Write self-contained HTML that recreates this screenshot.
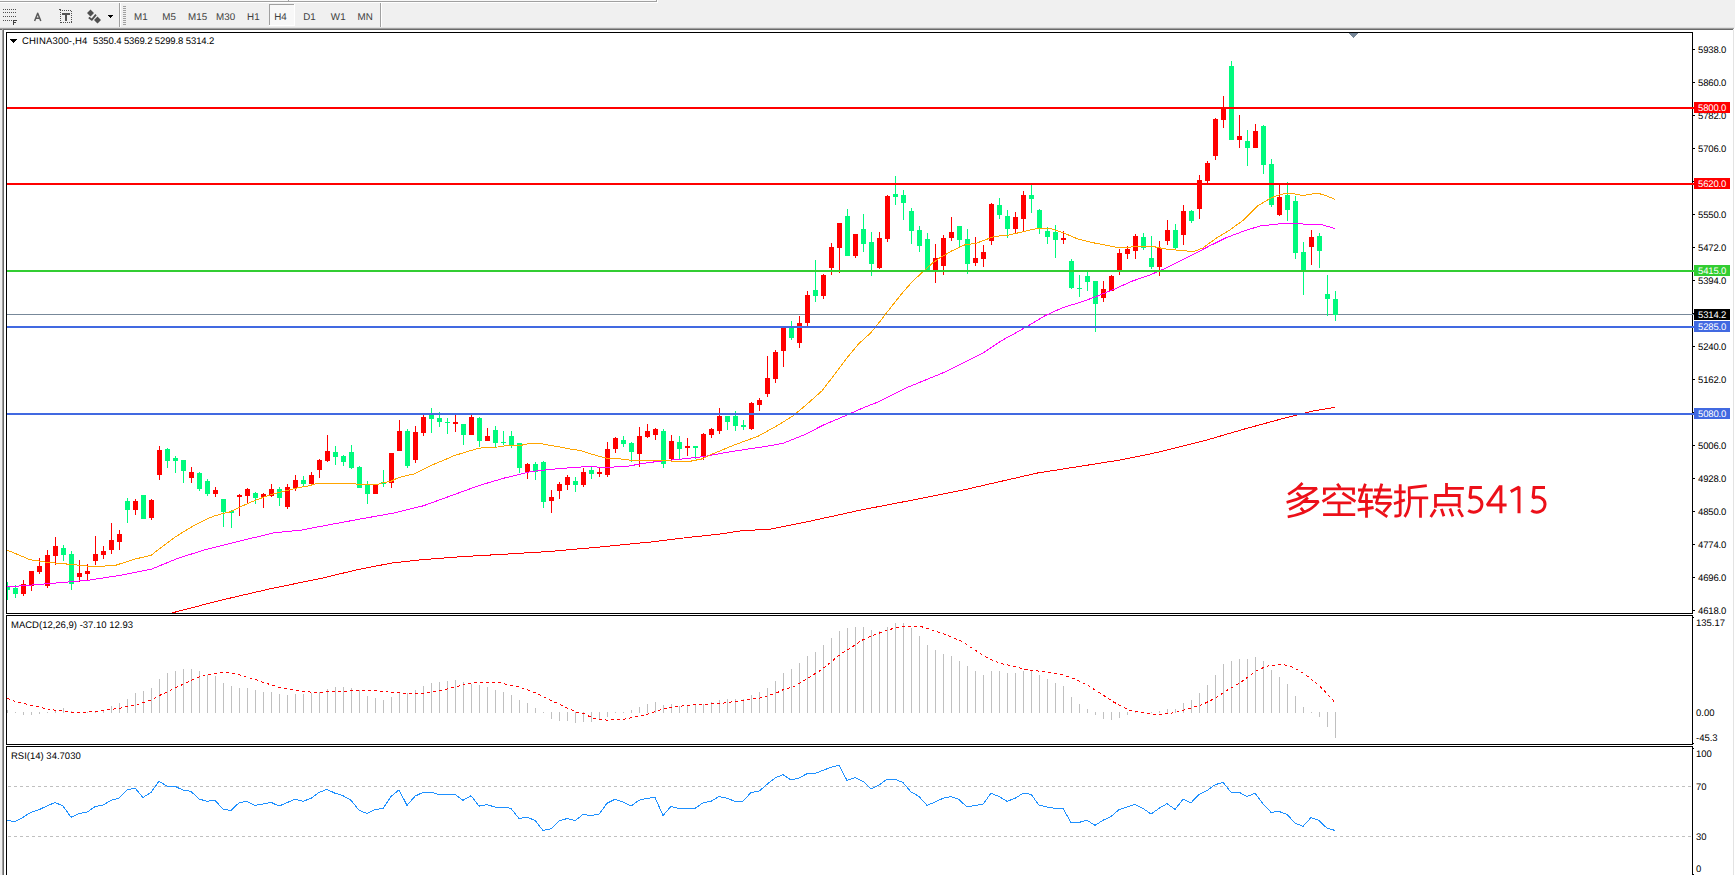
<!DOCTYPE html>
<html><head><meta charset="utf-8"><title>CHINA300 H4</title>
<style>
html,body{margin:0;padding:0;background:#fff;}
body{width:1735px;height:875px;overflow:hidden;position:relative;font-family:"Liberation Sans",sans-serif;}
svg{position:absolute;left:0;top:0;display:block;}
text{font-family:"Liberation Sans",sans-serif;font-size:9.5px;fill:#000;text-rendering:geometricPrecision;}
.tb{fill:#404040;font-size:9.8px;letter-spacing:0.1px;}
.w{fill:#fff;}
.ax{letter-spacing:-0.15px;}
</style></head><body>
<svg width="1735" height="875" viewBox="0 0 1735 875">
<g shape-rendering="crispEdges">
<rect x="0" y="0" width="1735" height="875" fill="#ffffff"/><rect x="0" y="0" width="1735" height="30" fill="#f0f0f0"/><rect x="0" y="0" width="656" height="1" fill="#f8f8f8"/><rect x="0" y="1" width="657" height="1" fill="#a0a0a0"/><rect x="288" y="0" width="1" height="2" fill="#a0a0a0"/><rect x="656" y="0" width="1" height="2" fill="#a0a0a0"/><rect x="0" y="2" width="658" height="1" fill="#ffffff"/><rect x="657" y="0" width="1" height="3" fill="#ffffff"/><rect x="0" y="27" width="1734" height="1" fill="#e0e0e0"/><rect x="0" y="28" width="1734" height="1" fill="#a0a0a0"/><rect x="0" y="29" width="1733" height="1" fill="#696969"/><rect x="0" y="30" width="2" height="845" fill="#f0f0f0"/><rect x="2" y="29" width="1" height="846" fill="#a0a0a0"/><rect x="3" y="30" width="1" height="845" fill="#696969"/><rect x="1733" y="30" width="1" height="845" fill="#e3e3e3"/><rect x="1734" y="28" width="1" height="847" fill="#ffffff"/>
<rect x="3" y="9" width="1" height="1" fill="#505050"/><rect x="5" y="9" width="1" height="1" fill="#505050"/><rect x="7" y="9" width="1" height="1" fill="#505050"/><rect x="9" y="9" width="1" height="1" fill="#505050"/><rect x="11" y="9" width="1" height="1" fill="#505050"/><rect x="13" y="9" width="1" height="1" fill="#505050"/><rect x="15" y="9" width="1" height="1" fill="#505050"/><rect x="3" y="12" width="1" height="1" fill="#505050"/><rect x="5" y="12" width="1" height="1" fill="#505050"/><rect x="7" y="12" width="1" height="1" fill="#505050"/><rect x="9" y="12" width="1" height="1" fill="#505050"/><rect x="11" y="12" width="1" height="1" fill="#505050"/><rect x="13" y="12" width="1" height="1" fill="#505050"/><rect x="15" y="12" width="1" height="1" fill="#505050"/><rect x="3" y="16" width="1" height="1" fill="#505050"/><rect x="5" y="16" width="1" height="1" fill="#505050"/><rect x="7" y="16" width="1" height="1" fill="#505050"/><rect x="9" y="16" width="1" height="1" fill="#505050"/><rect x="11" y="16" width="1" height="1" fill="#505050"/><rect x="13" y="16" width="1" height="1" fill="#505050"/><rect x="15" y="16" width="1" height="1" fill="#505050"/><rect x="3" y="20" width="1" height="1" fill="#505050"/><rect x="5" y="20" width="1" height="1" fill="#505050"/><rect x="7" y="20" width="1" height="1" fill="#505050"/><rect x="9" y="20" width="1" height="1" fill="#505050"/><rect x="11" y="20" width="1" height="1" fill="#505050"/><rect x="13" y="20" width="4" height="1" fill="#404040"/><rect x="13" y="20" width="1" height="5" fill="#404040"/><rect x="13" y="22" width="3" height="1" fill="#404040"/><rect x="60" y="10" width="1" height="1" fill="#505050"/><rect x="61" y="22" width="1" height="1" fill="#505050"/><rect x="62" y="10" width="1" height="1" fill="#505050"/><rect x="63" y="22" width="1" height="1" fill="#505050"/><rect x="64" y="10" width="1" height="1" fill="#505050"/><rect x="65" y="22" width="1" height="1" fill="#505050"/><rect x="66" y="10" width="1" height="1" fill="#505050"/><rect x="67" y="22" width="1" height="1" fill="#505050"/><rect x="68" y="10" width="1" height="1" fill="#505050"/><rect x="69" y="22" width="1" height="1" fill="#505050"/><rect x="70" y="10" width="1" height="1" fill="#505050"/><rect x="71" y="22" width="1" height="1" fill="#505050"/><rect x="60" y="10" width="1" height="1" fill="#505050"/><rect x="60" y="12" width="1" height="1" fill="#505050"/><rect x="60" y="14" width="1" height="1" fill="#505050"/><rect x="60" y="16" width="1" height="1" fill="#505050"/><rect x="60" y="18" width="1" height="1" fill="#505050"/><rect x="60" y="20" width="1" height="1" fill="#505050"/><rect x="60" y="22" width="1" height="1" fill="#505050"/><rect x="71" y="11" width="1" height="1" fill="#505050"/><rect x="71" y="13" width="1" height="1" fill="#505050"/><rect x="71" y="15" width="1" height="1" fill="#505050"/><rect x="71" y="17" width="1" height="1" fill="#505050"/><rect x="71" y="19" width="1" height="1" fill="#505050"/><rect x="71" y="21" width="1" height="1" fill="#505050"/><rect x="59" y="9" width="2" height="1" fill="#505050"/><rect x="62" y="13" width="8" height="2" fill="#555555"/><rect x="65" y="13" width="2" height="8" fill="#555555"/><rect x="119" y="3" width="1" height="24" fill="#a0a0a0"/><rect x="120" y="3" width="1" height="24" fill="#ffffff"/><rect x="123" y="6" width="3" height="1" fill="#a0a0a0"/><rect x="123" y="8" width="3" height="1" fill="#a0a0a0"/><rect x="123" y="10" width="3" height="1" fill="#a0a0a0"/><rect x="123" y="12" width="3" height="1" fill="#a0a0a0"/><rect x="123" y="14" width="3" height="1" fill="#a0a0a0"/><rect x="123" y="16" width="3" height="1" fill="#a0a0a0"/><rect x="123" y="18" width="3" height="1" fill="#a0a0a0"/><rect x="123" y="20" width="3" height="1" fill="#a0a0a0"/><rect x="123" y="22" width="3" height="1" fill="#a0a0a0"/><rect x="123" y="24" width="3" height="1" fill="#a0a0a0"/><rect x="380" y="3" width="1" height="24" fill="#a0a0a0"/><rect x="381" y="3" width="1" height="24" fill="#ffffff"/><rect x="270" y="5" width="24" height="21" fill="#f8f8f8"/><rect x="269" y="4" width="25" height="1" fill="#a0a0a0"/><rect x="269" y="4" width="1" height="22" fill="#a0a0a0"/><rect x="294" y="4" width="1" height="22" fill="#ffffff"/><rect x="269" y="25" width="26" height="1" fill="#ffffff"/></g>
<path d="M34.6 21 L37.7 13.2 L40.8 21 M35.7 18.2 L39.7 18.2" fill="none" stroke="#5a5a5a" stroke-width="1.5" stroke-linejoin="round"/>
<path d="M90.5 9.5 L94 13 L90.5 16.5 L87 13 Z M97.5 16.5 L101 20 L97.5 23.5 L94 20 Z" fill="#505050"/>
<path d="M88.8 17.6 L91.8 19.8 L96 14.6" fill="none" stroke="#505050" stroke-width="1.9"/>
<g shape-rendering="crispEdges"><rect x="108" y="15" width="5" height="1" fill="#000000"/><rect x="109" y="16" width="3" height="1" fill="#000000"/><rect x="110" y="17" width="1" height="1" fill="#000000"/></g>
<text class="tb" x="134" y="20">M1</text><text class="tb" x="162.3" y="20">M5</text><text class="tb" x="188" y="20">M15</text><text class="tb" x="216" y="20">M30</text><text class="tb" x="247" y="20">H1</text><text class="tb" x="274.2" y="20">H4</text><text class="tb" x="303.2" y="20">D1</text><text class="tb" x="330.8" y="20">W1</text><text class="tb" x="357.6" y="20">MN</text>
<g shape-rendering="crispEdges">
<rect x="6" y="32" width="1687" height="1" fill="#000000"/><rect x="6" y="32" width="1" height="582" fill="#000000"/><rect x="6" y="613" width="1687" height="1" fill="#000000"/><rect x="1692" y="32" width="1" height="582" fill="#000000"/><rect x="1692" y="615" width="1" height="130" fill="#000000"/><rect x="1692" y="746" width="1" height="129" fill="#000000"/><rect x="6" y="615" width="1687" height="1" fill="#000000"/><rect x="6" y="615" width="1" height="130" fill="#000000"/><rect x="6" y="744" width="1687" height="1" fill="#000000"/><rect x="6" y="746" width="1687" height="1" fill="#000000"/><rect x="6" y="746" width="1" height="129" fill="#000000"/><rect x="1693" y="49" width="2" height="1" fill="#000000"/><rect x="1693" y="82" width="2" height="1" fill="#000000"/><rect x="1693" y="115" width="2" height="1" fill="#000000"/><rect x="1693" y="148" width="2" height="1" fill="#000000"/><rect x="1693" y="181" width="2" height="1" fill="#000000"/><rect x="1693" y="214" width="2" height="1" fill="#000000"/><rect x="1693" y="247" width="2" height="1" fill="#000000"/><rect x="1693" y="280" width="2" height="1" fill="#000000"/><rect x="1693" y="313" width="2" height="1" fill="#000000"/><rect x="1693" y="346" width="2" height="1" fill="#000000"/><rect x="1693" y="379" width="2" height="1" fill="#000000"/><rect x="1693" y="412" width="2" height="1" fill="#000000"/><rect x="1693" y="445" width="2" height="1" fill="#000000"/><rect x="1693" y="478" width="2" height="1" fill="#000000"/><rect x="1693" y="511" width="2" height="1" fill="#000000"/><rect x="1693" y="544" width="2" height="1" fill="#000000"/><rect x="1693" y="577" width="2" height="1" fill="#000000"/><rect x="1693" y="610" width="2" height="1" fill="#000000"/><rect x="1693" y="874" width="1" height="1" fill="#000000"/><rect x="1693" y="617" width="1" height="1" fill="#000000"/><rect x="1693" y="743" width="1" height="1" fill="#000000"/><rect x="1693" y="748" width="1" height="1" fill="#000000"/></g>
<text class="ax" x="1698" y="53">5938.0</text><text class="ax" x="1698" y="86">5860.0</text><text class="ax" x="1698" y="119">5782.0</text><text class="ax" x="1698" y="152">5706.0</text><text class="ax" x="1698" y="185">5628.0</text><text class="ax" x="1698" y="218">5550.0</text><text class="ax" x="1698" y="251">5472.0</text><text class="ax" x="1698" y="284">5394.0</text><text class="ax" x="1698" y="317">5318.0</text><text class="ax" x="1698" y="350">5240.0</text><text class="ax" x="1698" y="383">5162.0</text><text class="ax" x="1698" y="416">5084.0</text><text class="ax" x="1698" y="449">5006.0</text><text class="ax" x="1698" y="482">4928.0</text><text class="ax" x="1698" y="515">4850.0</text><text class="ax" x="1698" y="548">4774.0</text><text class="ax" x="1698" y="581">4696.0</text><text class="ax" x="1698" y="614">4618.0</text>
<defs><clipPath id="cm"><rect x="7" y="33" width="1685" height="580"/></clipPath><clipPath id="cd"><rect x="7" y="616" width="1685" height="128"/></clipPath><clipPath id="cr"><rect x="7" y="747" width="1685" height="128"/></clipPath></defs>
<g clip-path="url(#cm)" shape-rendering="crispEdges">
<rect x="7" y="314" width="1685" height="1" fill="#778899"/><rect x="7" y="582" width="1" height="18" fill="#00fa7d"/><rect x="5" y="586" width="5" height="4" fill="#00fa7d"/><rect x="15" y="585" width="1" height="13" fill="#00fa7d"/><rect x="13" y="588" width="5" height="6" fill="#00fa7d"/><rect x="23" y="580" width="1" height="16" fill="#ff0000"/><rect x="21" y="584" width="5" height="10" fill="#ff0000"/><rect x="31" y="571" width="1" height="20" fill="#ff0000"/><rect x="29" y="571" width="5" height="15" fill="#ff0000"/><rect x="39" y="558" width="1" height="16" fill="#ff0000"/><rect x="37" y="566" width="5" height="6" fill="#ff0000"/><rect x="47" y="550" width="1" height="38" fill="#ff0000"/><rect x="45" y="555" width="5" height="31" fill="#ff0000"/><rect x="55" y="537" width="1" height="28" fill="#ff0000"/><rect x="53" y="546" width="5" height="10" fill="#ff0000"/><rect x="63" y="545" width="1" height="16" fill="#00fa7d"/><rect x="61" y="548" width="5" height="7" fill="#00fa7d"/><rect x="71" y="551" width="1" height="39" fill="#00fa7d"/><rect x="69" y="554" width="5" height="30" fill="#00fa7d"/><rect x="79" y="560" width="1" height="22" fill="#ff0000"/><rect x="77" y="573" width="5" height="4" fill="#ff0000"/><rect x="87" y="564" width="1" height="16" fill="#ff0000"/><rect x="85" y="571" width="5" height="3" fill="#ff0000"/><rect x="95" y="536" width="1" height="29" fill="#ff0000"/><rect x="93" y="554" width="5" height="7" fill="#ff0000"/><rect x="103" y="546" width="1" height="13" fill="#ff0000"/><rect x="101" y="551" width="5" height="4" fill="#ff0000"/><rect x="111" y="523" width="1" height="31" fill="#ff0000"/><rect x="109" y="540" width="5" height="10" fill="#ff0000"/><rect x="119" y="530" width="1" height="20" fill="#ff0000"/><rect x="117" y="534" width="5" height="8" fill="#ff0000"/><rect x="127" y="498" width="1" height="25" fill="#00fa7d"/><rect x="125" y="501" width="5" height="9" fill="#00fa7d"/><rect x="135" y="499" width="1" height="16" fill="#ff0000"/><rect x="133" y="501" width="5" height="9" fill="#ff0000"/><rect x="143" y="495" width="1" height="24" fill="#00fa7d"/><rect x="141" y="495" width="5" height="24" fill="#00fa7d"/><rect x="151" y="499" width="1" height="21" fill="#ff0000"/><rect x="149" y="500" width="5" height="18" fill="#ff0000"/><rect x="159" y="446" width="1" height="34" fill="#ff0000"/><rect x="157" y="450" width="5" height="25" fill="#ff0000"/><rect x="167" y="448" width="1" height="20" fill="#00fa7d"/><rect x="165" y="449" width="5" height="12" fill="#00fa7d"/><rect x="175" y="456" width="1" height="17" fill="#00fa7d"/><rect x="173" y="458" width="5" height="3" fill="#00fa7d"/><rect x="183" y="460" width="1" height="23" fill="#00fa7d"/><rect x="181" y="460" width="5" height="11" fill="#00fa7d"/><rect x="191" y="467" width="1" height="16" fill="#ff0000"/><rect x="189" y="472" width="5" height="6" fill="#ff0000"/><rect x="199" y="472" width="1" height="19" fill="#00fa7d"/><rect x="197" y="473" width="5" height="16" fill="#00fa7d"/><rect x="207" y="479" width="1" height="17" fill="#00fa7d"/><rect x="205" y="481" width="5" height="13" fill="#00fa7d"/><rect x="215" y="487" width="1" height="10" fill="#ff0000"/><rect x="213" y="490" width="5" height="4" fill="#ff0000"/><rect x="223" y="499" width="1" height="28" fill="#00fa7d"/><rect x="221" y="499" width="5" height="13" fill="#00fa7d"/><rect x="231" y="510" width="1" height="18" fill="#00fa7d"/><rect x="229" y="511" width="5" height="2" fill="#00fa7d"/><rect x="239" y="494" width="1" height="22" fill="#ff0000"/><rect x="237" y="495" width="5" height="2" fill="#ff0000"/><rect x="247" y="488" width="1" height="15" fill="#ff0000"/><rect x="245" y="489" width="5" height="7" fill="#ff0000"/><rect x="255" y="492" width="1" height="12" fill="#00fa7d"/><rect x="253" y="493" width="5" height="5" fill="#00fa7d"/><rect x="263" y="493" width="1" height="15" fill="#ff0000"/><rect x="261" y="494" width="5" height="3" fill="#ff0000"/><rect x="271" y="484" width="1" height="13" fill="#ff0000"/><rect x="269" y="489" width="5" height="7" fill="#ff0000"/><rect x="279" y="487" width="1" height="19" fill="#00fa7d"/><rect x="277" y="489" width="5" height="9" fill="#00fa7d"/><rect x="287" y="484" width="1" height="25" fill="#ff0000"/><rect x="285" y="487" width="5" height="20" fill="#ff0000"/><rect x="295" y="475" width="1" height="16" fill="#ff0000"/><rect x="293" y="480" width="5" height="8" fill="#ff0000"/><rect x="303" y="476" width="1" height="11" fill="#00fa7d"/><rect x="301" y="480" width="5" height="4" fill="#00fa7d"/><rect x="311" y="472" width="1" height="13" fill="#ff0000"/><rect x="309" y="475" width="5" height="9" fill="#ff0000"/><rect x="319" y="459" width="1" height="19" fill="#ff0000"/><rect x="317" y="460" width="5" height="10" fill="#ff0000"/><rect x="327" y="435" width="1" height="27" fill="#ff0000"/><rect x="325" y="451" width="5" height="10" fill="#ff0000"/><rect x="335" y="446" width="1" height="19" fill="#00fa7d"/><rect x="333" y="452" width="5" height="5" fill="#00fa7d"/><rect x="343" y="455" width="1" height="11" fill="#00fa7d"/><rect x="341" y="456" width="5" height="6" fill="#00fa7d"/><rect x="351" y="445" width="1" height="24" fill="#00fa7d"/><rect x="349" y="452" width="5" height="16" fill="#00fa7d"/><rect x="359" y="466" width="1" height="22" fill="#00fa7d"/><rect x="357" y="467" width="5" height="21" fill="#00fa7d"/><rect x="367" y="481" width="1" height="23" fill="#00fa7d"/><rect x="365" y="484" width="5" height="10" fill="#00fa7d"/><rect x="375" y="485" width="1" height="9" fill="#ff0000"/><rect x="373" y="485" width="5" height="9" fill="#ff0000"/><rect x="383" y="470" width="1" height="17" fill="#00fa7d"/><rect x="381" y="482" width="5" height="2" fill="#00fa7d"/><rect x="391" y="453" width="1" height="35" fill="#ff0000"/><rect x="389" y="453" width="5" height="30" fill="#ff0000"/><rect x="399" y="420" width="1" height="31" fill="#ff0000"/><rect x="397" y="431" width="5" height="20" fill="#ff0000"/><rect x="407" y="429" width="1" height="39" fill="#00fa7d"/><rect x="405" y="431" width="5" height="35" fill="#00fa7d"/><rect x="415" y="426" width="1" height="37" fill="#ff0000"/><rect x="413" y="432" width="5" height="28" fill="#ff0000"/><rect x="423" y="415" width="1" height="21" fill="#ff0000"/><rect x="421" y="417" width="5" height="16" fill="#ff0000"/><rect x="431" y="408" width="1" height="25" fill="#00fa7d"/><rect x="429" y="415" width="5" height="4" fill="#00fa7d"/><rect x="439" y="412" width="1" height="15" fill="#00fa7d"/><rect x="437" y="418" width="5" height="4" fill="#00fa7d"/><rect x="447" y="418" width="1" height="16" fill="#00fa7d"/><rect x="445" y="422" width="5" height="1" fill="#00fa7d"/><rect x="455" y="415" width="1" height="17" fill="#ff0000"/><rect x="453" y="422" width="5" height="2" fill="#ff0000"/><rect x="463" y="424" width="1" height="21" fill="#00fa7d"/><rect x="461" y="424" width="5" height="11" fill="#00fa7d"/><rect x="471" y="415" width="1" height="20" fill="#ff0000"/><rect x="469" y="417" width="5" height="18" fill="#ff0000"/><rect x="479" y="417" width="1" height="30" fill="#00fa7d"/><rect x="477" y="418" width="5" height="23" fill="#00fa7d"/><rect x="487" y="428" width="1" height="13" fill="#ff0000"/><rect x="485" y="436" width="5" height="5" fill="#ff0000"/><rect x="495" y="426" width="1" height="21" fill="#00fa7d"/><rect x="493" y="430" width="5" height="13" fill="#00fa7d"/><rect x="503" y="431" width="1" height="14" fill="#00fa7d"/><rect x="501" y="442" width="5" height="1" fill="#00fa7d"/><rect x="511" y="431" width="1" height="17" fill="#00fa7d"/><rect x="509" y="436" width="5" height="9" fill="#00fa7d"/><rect x="519" y="443" width="1" height="30" fill="#00fa7d"/><rect x="517" y="443" width="5" height="25" fill="#00fa7d"/><rect x="527" y="463" width="1" height="16" fill="#ff0000"/><rect x="525" y="464" width="5" height="8" fill="#ff0000"/><rect x="535" y="462" width="1" height="18" fill="#00fa7d"/><rect x="533" y="464" width="5" height="8" fill="#00fa7d"/><rect x="543" y="461" width="1" height="47" fill="#00fa7d"/><rect x="541" y="462" width="5" height="40" fill="#00fa7d"/><rect x="551" y="490" width="1" height="23" fill="#ff0000"/><rect x="549" y="497" width="5" height="4" fill="#ff0000"/><rect x="559" y="482" width="1" height="17" fill="#ff0000"/><rect x="557" y="484" width="5" height="7" fill="#ff0000"/><rect x="567" y="475" width="1" height="15" fill="#ff0000"/><rect x="565" y="477" width="5" height="8" fill="#ff0000"/><rect x="575" y="477" width="1" height="15" fill="#00fa7d"/><rect x="573" y="481" width="5" height="4" fill="#00fa7d"/><rect x="583" y="468" width="1" height="19" fill="#ff0000"/><rect x="581" y="472" width="5" height="13" fill="#ff0000"/><rect x="591" y="467" width="1" height="12" fill="#00fa7d"/><rect x="589" y="470" width="5" height="4" fill="#00fa7d"/><rect x="599" y="468" width="1" height="9" fill="#ff0000"/><rect x="597" y="472" width="5" height="2" fill="#ff0000"/><rect x="607" y="442" width="1" height="35" fill="#ff0000"/><rect x="605" y="449" width="5" height="26" fill="#ff0000"/><rect x="615" y="437" width="1" height="16" fill="#ff0000"/><rect x="613" y="438" width="5" height="11" fill="#ff0000"/><rect x="623" y="436" width="1" height="11" fill="#00fa7d"/><rect x="621" y="440" width="5" height="4" fill="#00fa7d"/><rect x="631" y="442" width="1" height="20" fill="#00fa7d"/><rect x="629" y="443" width="5" height="9" fill="#00fa7d"/><rect x="639" y="427" width="1" height="40" fill="#ff0000"/><rect x="637" y="436" width="5" height="18" fill="#ff0000"/><rect x="647" y="424" width="1" height="14" fill="#ff0000"/><rect x="645" y="431" width="5" height="6" fill="#ff0000"/><rect x="655" y="428" width="1" height="12" fill="#ff0000"/><rect x="653" y="429" width="5" height="6" fill="#ff0000"/><rect x="663" y="429" width="1" height="39" fill="#00fa7d"/><rect x="661" y="431" width="5" height="33" fill="#00fa7d"/><rect x="671" y="435" width="1" height="25" fill="#ff0000"/><rect x="669" y="441" width="5" height="18" fill="#ff0000"/><rect x="679" y="436" width="1" height="23" fill="#00fa7d"/><rect x="677" y="442" width="5" height="7" fill="#00fa7d"/><rect x="687" y="438" width="1" height="18" fill="#ff0000"/><rect x="685" y="446" width="5" height="2" fill="#ff0000"/><rect x="695" y="446" width="1" height="13" fill="#00fa7d"/><rect x="693" y="446" width="5" height="2" fill="#00fa7d"/><rect x="703" y="433" width="1" height="27" fill="#ff0000"/><rect x="701" y="434" width="5" height="23" fill="#ff0000"/><rect x="711" y="428" width="1" height="10" fill="#ff0000"/><rect x="709" y="429" width="5" height="6" fill="#ff0000"/><rect x="719" y="408" width="1" height="26" fill="#ff0000"/><rect x="717" y="416" width="5" height="15" fill="#ff0000"/><rect x="727" y="416" width="1" height="14" fill="#00fa7d"/><rect x="725" y="416" width="5" height="6" fill="#00fa7d"/><rect x="735" y="411" width="1" height="20" fill="#00fa7d"/><rect x="733" y="416" width="5" height="10" fill="#00fa7d"/><rect x="743" y="420" width="1" height="10" fill="#00fa7d"/><rect x="741" y="425" width="5" height="2" fill="#00fa7d"/><rect x="751" y="402" width="1" height="28" fill="#ff0000"/><rect x="749" y="403" width="5" height="26" fill="#ff0000"/><rect x="759" y="398" width="1" height="13" fill="#ff0000"/><rect x="757" y="400" width="5" height="5" fill="#ff0000"/><rect x="767" y="356" width="1" height="41" fill="#ff0000"/><rect x="765" y="378" width="5" height="16" fill="#ff0000"/><rect x="775" y="350" width="1" height="33" fill="#ff0000"/><rect x="773" y="352" width="5" height="27" fill="#ff0000"/><rect x="783" y="328" width="1" height="39" fill="#ff0000"/><rect x="781" y="328" width="5" height="23" fill="#ff0000"/><rect x="791" y="321" width="1" height="19" fill="#00fa7d"/><rect x="789" y="328" width="5" height="10" fill="#00fa7d"/><rect x="799" y="316" width="1" height="32" fill="#ff0000"/><rect x="797" y="323" width="5" height="20" fill="#ff0000"/><rect x="807" y="291" width="1" height="35" fill="#ff0000"/><rect x="805" y="295" width="5" height="28" fill="#ff0000"/><rect x="815" y="260" width="1" height="42" fill="#00fa7d"/><rect x="813" y="290" width="5" height="6" fill="#00fa7d"/><rect x="823" y="274" width="1" height="25" fill="#ff0000"/><rect x="821" y="275" width="5" height="21" fill="#ff0000"/><rect x="831" y="243" width="1" height="32" fill="#ff0000"/><rect x="829" y="247" width="5" height="21" fill="#ff0000"/><rect x="839" y="223" width="1" height="50" fill="#ff0000"/><rect x="837" y="223" width="5" height="25" fill="#ff0000"/><rect x="847" y="209" width="1" height="47" fill="#00fa7d"/><rect x="845" y="216" width="5" height="40" fill="#00fa7d"/><rect x="855" y="234" width="1" height="24" fill="#ff0000"/><rect x="853" y="234" width="5" height="22" fill="#ff0000"/><rect x="863" y="214" width="1" height="38" fill="#00fa7d"/><rect x="861" y="229" width="5" height="15" fill="#00fa7d"/><rect x="871" y="232" width="1" height="44" fill="#00fa7d"/><rect x="869" y="242" width="5" height="22" fill="#00fa7d"/><rect x="879" y="232" width="1" height="37" fill="#ff0000"/><rect x="877" y="238" width="5" height="30" fill="#ff0000"/><rect x="887" y="195" width="1" height="47" fill="#ff0000"/><rect x="885" y="196" width="5" height="43" fill="#ff0000"/><rect x="895" y="176" width="1" height="29" fill="#00fa7d"/><rect x="893" y="194" width="5" height="3" fill="#00fa7d"/><rect x="903" y="190" width="1" height="30" fill="#00fa7d"/><rect x="901" y="195" width="5" height="8" fill="#00fa7d"/><rect x="911" y="208" width="1" height="36" fill="#00fa7d"/><rect x="909" y="211" width="5" height="20" fill="#00fa7d"/><rect x="919" y="226" width="1" height="26" fill="#00fa7d"/><rect x="917" y="230" width="5" height="16" fill="#00fa7d"/><rect x="927" y="233" width="1" height="37" fill="#00fa7d"/><rect x="925" y="239" width="5" height="31" fill="#00fa7d"/><rect x="935" y="244" width="1" height="39" fill="#ff0000"/><rect x="933" y="258" width="5" height="13" fill="#ff0000"/><rect x="943" y="235" width="1" height="40" fill="#ff0000"/><rect x="941" y="238" width="5" height="28" fill="#ff0000"/><rect x="951" y="217" width="1" height="24" fill="#ff0000"/><rect x="949" y="232" width="5" height="6" fill="#ff0000"/><rect x="959" y="226" width="1" height="21" fill="#00fa7d"/><rect x="957" y="226" width="5" height="14" fill="#00fa7d"/><rect x="967" y="229" width="1" height="45" fill="#00fa7d"/><rect x="965" y="239" width="5" height="25" fill="#00fa7d"/><rect x="975" y="237" width="1" height="29" fill="#ff0000"/><rect x="973" y="258" width="5" height="5" fill="#ff0000"/><rect x="983" y="245" width="1" height="22" fill="#ff0000"/><rect x="981" y="252" width="5" height="7" fill="#ff0000"/><rect x="991" y="203" width="1" height="42" fill="#ff0000"/><rect x="989" y="204" width="5" height="37" fill="#ff0000"/><rect x="999" y="198" width="1" height="21" fill="#00fa7d"/><rect x="997" y="205" width="5" height="10" fill="#00fa7d"/><rect x="1007" y="210" width="1" height="28" fill="#00fa7d"/><rect x="1005" y="216" width="5" height="13" fill="#00fa7d"/><rect x="1015" y="212" width="1" height="21" fill="#ff0000"/><rect x="1013" y="217" width="5" height="12" fill="#ff0000"/><rect x="1023" y="191" width="1" height="40" fill="#ff0000"/><rect x="1021" y="195" width="5" height="24" fill="#ff0000"/><rect x="1031" y="185" width="1" height="28" fill="#00fa7d"/><rect x="1029" y="195" width="5" height="4" fill="#00fa7d"/><rect x="1039" y="209" width="1" height="25" fill="#00fa7d"/><rect x="1037" y="210" width="5" height="18" fill="#00fa7d"/><rect x="1047" y="227" width="1" height="17" fill="#00fa7d"/><rect x="1045" y="231" width="5" height="6" fill="#00fa7d"/><rect x="1055" y="225" width="1" height="33" fill="#00fa7d"/><rect x="1053" y="232" width="5" height="8" fill="#00fa7d"/><rect x="1063" y="231" width="1" height="13" fill="#ff0000"/><rect x="1061" y="238" width="5" height="2" fill="#ff0000"/><rect x="1071" y="259" width="1" height="30" fill="#00fa7d"/><rect x="1069" y="261" width="5" height="27" fill="#00fa7d"/><rect x="1079" y="275" width="1" height="22" fill="#00fa7d"/><rect x="1077" y="288" width="5" height="1" fill="#00fa7d"/><rect x="1087" y="272" width="1" height="19" fill="#00fa7d"/><rect x="1085" y="276" width="5" height="6" fill="#00fa7d"/><rect x="1095" y="281" width="1" height="51" fill="#00fa7d"/><rect x="1093" y="281" width="5" height="23" fill="#00fa7d"/><rect x="1103" y="281" width="1" height="21" fill="#ff0000"/><rect x="1101" y="289" width="5" height="9" fill="#ff0000"/><rect x="1111" y="275" width="1" height="16" fill="#ff0000"/><rect x="1109" y="276" width="5" height="15" fill="#ff0000"/><rect x="1119" y="249" width="1" height="26" fill="#ff0000"/><rect x="1117" y="253" width="5" height="17" fill="#ff0000"/><rect x="1127" y="246" width="1" height="13" fill="#ff0000"/><rect x="1125" y="249" width="5" height="5" fill="#ff0000"/><rect x="1135" y="234" width="1" height="25" fill="#ff0000"/><rect x="1133" y="236" width="5" height="15" fill="#ff0000"/><rect x="1143" y="233" width="1" height="17" fill="#00fa7d"/><rect x="1141" y="237" width="5" height="11" fill="#00fa7d"/><rect x="1151" y="236" width="1" height="33" fill="#00fa7d"/><rect x="1149" y="258" width="5" height="9" fill="#00fa7d"/><rect x="1159" y="241" width="1" height="35" fill="#ff0000"/><rect x="1157" y="248" width="5" height="19" fill="#ff0000"/><rect x="1167" y="220" width="1" height="25" fill="#ff0000"/><rect x="1165" y="230" width="5" height="11" fill="#ff0000"/><rect x="1175" y="224" width="1" height="26" fill="#00fa7d"/><rect x="1173" y="230" width="5" height="18" fill="#00fa7d"/><rect x="1183" y="205" width="1" height="40" fill="#ff0000"/><rect x="1181" y="211" width="5" height="24" fill="#ff0000"/><rect x="1191" y="210" width="1" height="13" fill="#00fa7d"/><rect x="1189" y="211" width="5" height="10" fill="#00fa7d"/><rect x="1199" y="175" width="1" height="44" fill="#ff0000"/><rect x="1197" y="180" width="5" height="29" fill="#ff0000"/><rect x="1207" y="161" width="1" height="22" fill="#ff0000"/><rect x="1205" y="163" width="5" height="18" fill="#ff0000"/><rect x="1215" y="118" width="1" height="42" fill="#ff0000"/><rect x="1213" y="119" width="5" height="37" fill="#ff0000"/><rect x="1223" y="96" width="1" height="32" fill="#ff0000"/><rect x="1221" y="108" width="5" height="12" fill="#ff0000"/><rect x="1231" y="61" width="1" height="79" fill="#00fa7d"/><rect x="1229" y="66" width="5" height="74" fill="#00fa7d"/><rect x="1239" y="115" width="1" height="33" fill="#ff0000"/><rect x="1237" y="136" width="5" height="4" fill="#ff0000"/><rect x="1247" y="130" width="1" height="36" fill="#00fa7d"/><rect x="1245" y="141" width="5" height="7" fill="#00fa7d"/><rect x="1255" y="124" width="1" height="24" fill="#ff0000"/><rect x="1253" y="131" width="5" height="17" fill="#ff0000"/><rect x="1263" y="125" width="1" height="49" fill="#00fa7d"/><rect x="1261" y="126" width="5" height="39" fill="#00fa7d"/><rect x="1271" y="159" width="1" height="48" fill="#00fa7d"/><rect x="1269" y="164" width="5" height="41" fill="#00fa7d"/><rect x="1279" y="184" width="1" height="32" fill="#ff0000"/><rect x="1277" y="197" width="5" height="18" fill="#ff0000"/><rect x="1287" y="182" width="1" height="39" fill="#00fa7d"/><rect x="1285" y="195" width="5" height="15" fill="#00fa7d"/><rect x="1295" y="196" width="1" height="63" fill="#00fa7d"/><rect x="1293" y="201" width="5" height="52" fill="#00fa7d"/><rect x="1303" y="242" width="1" height="53" fill="#00fa7d"/><rect x="1301" y="252" width="5" height="18" fill="#00fa7d"/><rect x="1311" y="230" width="1" height="35" fill="#ff0000"/><rect x="1309" y="237" width="5" height="10" fill="#ff0000"/><rect x="1319" y="233" width="1" height="35" fill="#00fa7d"/><rect x="1317" y="236" width="5" height="15" fill="#00fa7d"/><rect x="1327" y="275" width="1" height="41" fill="#00fa7d"/><rect x="1325" y="294" width="5" height="5" fill="#00fa7d"/><rect x="1335" y="291" width="1" height="30" fill="#00fa7d"/><rect x="1333" y="299" width="5" height="16" fill="#00fa7d"/>
<polyline points="172.5,612.8 219.0,600.7 271.0,588.6 323.0,578.0 357.6,569.6 392.0,563.0 420.0,559.9 461.0,556.7 496.0,554.7 548.0,551.6 600.0,547.0 651.7,541.9 686.0,537.7 721.0,533.9 740.0,531.0 771.0,529.0 809.0,521.4 861.0,510.0 913.0,500.0 965.0,489.6 999.5,481.7 1037.6,473.0 1086.0,465.4 1120.6,459.9 1155.0,452.9 1207.0,440.0 1241.7,429.8 1276.0,420.4 1311.0,411.4 1335.0,407.3" fill="none" stroke="#ff0000" stroke-width="1"/>
<polyline points="7.0,587.0 49.0,583.6 87.8,580.3 123.5,574.8 151.0,569.3 178.0,558.3 205.8,549.5 233.0,542.7 274.0,532.8 301.8,530.0 331.6,524.3 364.3,518.3 394.0,513.0 423.7,505.7 453.4,494.9 480.0,485.2 503.8,478.2 527.5,472.3 539.4,470.5 563.0,468.3 587.0,466.6 596.0,466.6 598.9,467.5 625.6,466.6 643.4,463.4 658.0,461.4 680.0,459.2 703.0,456.7 731.7,451.5 772.9,445.3 783.0,443.3 803.7,435.0 824.0,424.8 845.0,415.9 863.4,407.7 878.0,402.0 906.0,388.0 947.6,370.9 982.0,353.6 1003.0,339.8 1013.8,334.0 1026.6,326.7 1044.8,315.8 1063.0,307.5 1081.4,302.0 1096.0,296.6 1114.0,289.3 1132.6,281.0 1150.9,274.6 1165.5,268.2 1180.0,260.9 1193.7,254.3 1207.4,247.0 1225.7,237.9 1244.0,231.0 1260.0,226.0 1282.9,223.5 1303.0,224.0 1321.7,224.6 1335.4,228.7" fill="none" stroke="#ff00ff" stroke-width="1"/>
<polyline points="7.0,550.0 30.0,559.7 48.0,562.4 71.0,564.4 93.0,566.6 115.0,565.5 134.0,559.3 151.0,555.3 159.4,548.9 174.3,537.7 184.7,531.0 195.0,525.0 207.0,518.9 214.4,515.9 223.3,513.5 230.8,511.7 239.7,507.3 250.0,502.4 260.5,498.4 270.9,494.6 279.8,492.4 288.7,490.2 300.0,487.2 304.9,486.8 317.5,483.4 355.4,483.6 357.6,484.6 377.7,484.6 382.0,483.0 391.0,481.2 397.0,478.2 405.9,475.7 414.8,473.8 423.7,469.3 432.6,464.8 444.5,459.9 453.4,455.9 465.3,452.2 477.0,448.8 484.7,447.3 497.8,447.0 509.7,445.2 521.6,445.2 530.5,443.3 539.4,443.3 548.4,445.0 560.0,447.0 569.0,448.8 581.0,450.7 590.0,453.7 598.9,456.2 607.8,458.4 619.7,458.9 628.6,460.0 637.5,461.0 658.0,460.4 680.0,461.4 690.6,461.2 703.0,458.7 711.0,454.6 731.7,446.0 758.5,436.0 777.0,425.8 793.5,415.5 805.8,405.2 822.0,390.8 834.6,374.4 847.0,357.9 859.0,343.5 870.0,333.6 878.0,324.0 888.8,310.0 900.8,294.8 912.0,282.0 923.0,271.6 932.8,262.8 940.8,257.2 952.0,250.8 964.8,244.9 976.0,243.3 984.0,240.4 992.0,237.2 1000.0,235.9 1008.0,235.3 1023.0,231.7 1037.5,228.4 1052.0,228.9 1063.0,232.6 1077.7,239.0 1092.4,242.6 1107.0,245.4 1118.0,247.6 1136.0,246.8 1154.5,246.8 1165.5,249.0 1180.0,250.4 1193.7,251.6 1202.9,248.0 1216.6,237.9 1230.0,229.9 1244.0,219.6 1257.7,205.9 1271.0,197.9 1280.6,194.4 1289.7,193.0 1303.0,195.6 1317.0,193.0 1326.0,195.6 1335.4,199.5" fill="none" stroke="#ffa500" stroke-width="1"/>
<rect x="7" y="107" width="1685" height="2" fill="#ff0000"/><rect x="7" y="183" width="1685" height="2" fill="#ff0000"/><rect x="7" y="270" width="1685" height="2" fill="#32cd32"/><rect x="7" y="326" width="1685" height="2" fill="#4169e1"/><rect x="7" y="413" width="1685" height="2" fill="#4169e1"/><rect x="1349" y="33" width="9" height="1" fill="#778899"/><rect x="1350" y="34" width="7" height="1" fill="#778899"/><rect x="1351" y="35" width="5" height="1" fill="#778899"/><rect x="1352" y="36" width="3" height="1" fill="#778899"/><rect x="1353" y="37" width="1" height="1" fill="#778899"/>
</g>
<g shape-rendering="crispEdges"><rect x="1694" y="102" width="36" height="11" fill="#ff0000"/><rect x="1694" y="178" width="36" height="11" fill="#ff0000"/><rect x="1694" y="265" width="36" height="11" fill="#32cd32"/><rect x="1694" y="321" width="36" height="11" fill="#4169e1"/><rect x="1694" y="408" width="36" height="11" fill="#4169e1"/><rect x="1694" y="309" width="36" height="11" fill="#000000"/><rect x="1692" y="107" width="2" height="2" fill="#ff0000"/><rect x="1692" y="183" width="2" height="2" fill="#ff0000"/><rect x="1692" y="270" width="2" height="2" fill="#32cd32"/><rect x="1692" y="326" width="2" height="2" fill="#4169e1"/><rect x="1692" y="413" width="2" height="2" fill="#4169e1"/><rect x="1692" y="314" width="2" height="1" fill="#778899"/></g>
<text class="w ax" x="1698" y="111">5800.0</text><text class="w ax" x="1698" y="187">5620.0</text><text class="w ax" x="1698" y="274">5415.0</text><text class="w ax" x="1698" y="330">5285.0</text><text class="w ax" x="1698" y="417">5080.0</text><text class="w ax" x="1698" y="318">5314.2</text>
<g shape-rendering="crispEdges"><rect x="10" y="39" width="7" height="1" fill="#000000"/><rect x="11" y="40" width="5" height="1" fill="#000000"/><rect x="12" y="41" width="3" height="1" fill="#000000"/><rect x="13" y="42" width="1" height="1" fill="#000000"/></g>
<text x="22" y="44" style="letter-spacing:0.18px">CHINA300-,H4</text><text x="93" y="44" style="letter-spacing:-0.11px">5350.4 5369.2 5299.8 5314.2</text>
<text x="11" y="628">MACD(12,26,9) -37.10 12.93</text>
<text x="11" y="759">RSI(14) 34.7030</text>
<g clip-path="url(#cd)" shape-rendering="crispEdges">
<rect x="7" y="710" width="1" height="3" fill="#c0c0c0"/><rect x="15" y="712" width="1" height="1" fill="#c0c0c0"/><rect x="23" y="712" width="1" height="3" fill="#c0c0c0"/><rect x="31" y="712" width="1" height="3" fill="#c0c0c0"/><rect x="39" y="712" width="1" height="2" fill="#c0c0c0"/><rect x="47" y="712" width="1" height="1" fill="#c0c0c0"/><rect x="55" y="710" width="1" height="3" fill="#c0c0c0"/><rect x="63" y="708" width="1" height="5" fill="#c0c0c0"/><rect x="71" y="711" width="1" height="2" fill="#c0c0c0"/><rect x="79" y="712" width="1" height="1" fill="#c0c0c0"/><rect x="87" y="712" width="1" height="1" fill="#c0c0c0"/><rect x="95" y="711" width="1" height="2" fill="#c0c0c0"/><rect x="103" y="710" width="1" height="3" fill="#c0c0c0"/><rect x="111" y="706" width="1" height="7" fill="#c0c0c0"/><rect x="119" y="703" width="1" height="10" fill="#c0c0c0"/><rect x="127" y="699" width="1" height="14" fill="#c0c0c0"/><rect x="135" y="693" width="1" height="20" fill="#c0c0c0"/><rect x="143" y="691" width="1" height="22" fill="#c0c0c0"/><rect x="151" y="688" width="1" height="25" fill="#c0c0c0"/><rect x="159" y="679" width="1" height="34" fill="#c0c0c0"/><rect x="167" y="673" width="1" height="40" fill="#c0c0c0"/><rect x="175" y="671" width="1" height="42" fill="#c0c0c0"/><rect x="183" y="669" width="1" height="44" fill="#c0c0c0"/><rect x="191" y="669" width="1" height="44" fill="#c0c0c0"/><rect x="199" y="671" width="1" height="42" fill="#c0c0c0"/><rect x="207" y="675" width="1" height="38" fill="#c0c0c0"/><rect x="215" y="676" width="1" height="37" fill="#c0c0c0"/><rect x="223" y="683" width="1" height="30" fill="#c0c0c0"/><rect x="231" y="686" width="1" height="27" fill="#c0c0c0"/><rect x="239" y="688" width="1" height="25" fill="#c0c0c0"/><rect x="247" y="688" width="1" height="25" fill="#c0c0c0"/><rect x="255" y="690" width="1" height="23" fill="#c0c0c0"/><rect x="263" y="692" width="1" height="21" fill="#c0c0c0"/><rect x="271" y="692" width="1" height="21" fill="#c0c0c0"/><rect x="279" y="694" width="1" height="19" fill="#c0c0c0"/><rect x="287" y="695" width="1" height="18" fill="#c0c0c0"/><rect x="295" y="694" width="1" height="19" fill="#c0c0c0"/><rect x="303" y="694" width="1" height="19" fill="#c0c0c0"/><rect x="311" y="693" width="1" height="20" fill="#c0c0c0"/><rect x="319" y="692" width="1" height="21" fill="#c0c0c0"/><rect x="327" y="689" width="1" height="24" fill="#c0c0c0"/><rect x="335" y="687" width="1" height="26" fill="#c0c0c0"/><rect x="343" y="687" width="1" height="26" fill="#c0c0c0"/><rect x="351" y="688" width="1" height="25" fill="#c0c0c0"/><rect x="359" y="690" width="1" height="23" fill="#c0c0c0"/><rect x="367" y="696" width="1" height="17" fill="#c0c0c0"/><rect x="375" y="698" width="1" height="15" fill="#c0c0c0"/><rect x="383" y="700" width="1" height="13" fill="#c0c0c0"/><rect x="391" y="697" width="1" height="16" fill="#c0c0c0"/><rect x="399" y="693" width="1" height="20" fill="#c0c0c0"/><rect x="407" y="693" width="1" height="20" fill="#c0c0c0"/><rect x="415" y="690" width="1" height="23" fill="#c0c0c0"/><rect x="423" y="686" width="1" height="27" fill="#c0c0c0"/><rect x="431" y="683" width="1" height="30" fill="#c0c0c0"/><rect x="439" y="682" width="1" height="31" fill="#c0c0c0"/><rect x="447" y="681" width="1" height="32" fill="#c0c0c0"/><rect x="455" y="680" width="1" height="33" fill="#c0c0c0"/><rect x="463" y="682" width="1" height="31" fill="#c0c0c0"/><rect x="471" y="684" width="1" height="29" fill="#c0c0c0"/><rect x="479" y="685" width="1" height="28" fill="#c0c0c0"/><rect x="487" y="687" width="1" height="26" fill="#c0c0c0"/><rect x="495" y="690" width="1" height="23" fill="#c0c0c0"/><rect x="503" y="692" width="1" height="21" fill="#c0c0c0"/><rect x="511" y="695" width="1" height="18" fill="#c0c0c0"/><rect x="519" y="700" width="1" height="13" fill="#c0c0c0"/><rect x="527" y="703" width="1" height="10" fill="#c0c0c0"/><rect x="535" y="708" width="1" height="5" fill="#c0c0c0"/><rect x="543" y="712" width="1" height="1" fill="#c0c0c0"/><rect x="551" y="712" width="1" height="7" fill="#c0c0c0"/><rect x="559" y="712" width="1" height="9" fill="#c0c0c0"/><rect x="567" y="712" width="1" height="9" fill="#c0c0c0"/><rect x="575" y="712" width="1" height="11" fill="#c0c0c0"/><rect x="583" y="712" width="1" height="10" fill="#c0c0c0"/><rect x="591" y="712" width="1" height="10" fill="#c0c0c0"/><rect x="599" y="712" width="1" height="8" fill="#c0c0c0"/><rect x="607" y="712" width="1" height="5" fill="#c0c0c0"/><rect x="615" y="712" width="1" height="1" fill="#c0c0c0"/><rect x="623" y="712" width="1" height="1" fill="#c0c0c0"/><rect x="631" y="710" width="1" height="3" fill="#c0c0c0"/><rect x="639" y="707" width="1" height="6" fill="#c0c0c0"/><rect x="647" y="704" width="1" height="9" fill="#c0c0c0"/><rect x="655" y="702" width="1" height="11" fill="#c0c0c0"/><rect x="663" y="705" width="1" height="8" fill="#c0c0c0"/><rect x="671" y="704" width="1" height="9" fill="#c0c0c0"/><rect x="679" y="706" width="1" height="7" fill="#c0c0c0"/><rect x="687" y="705" width="1" height="8" fill="#c0c0c0"/><rect x="695" y="705" width="1" height="8" fill="#c0c0c0"/><rect x="703" y="704" width="1" height="9" fill="#c0c0c0"/><rect x="711" y="702" width="1" height="11" fill="#c0c0c0"/><rect x="719" y="700" width="1" height="13" fill="#c0c0c0"/><rect x="727" y="699" width="1" height="14" fill="#c0c0c0"/><rect x="735" y="699" width="1" height="14" fill="#c0c0c0"/><rect x="743" y="699" width="1" height="14" fill="#c0c0c0"/><rect x="751" y="695" width="1" height="18" fill="#c0c0c0"/><rect x="759" y="692" width="1" height="21" fill="#c0c0c0"/><rect x="767" y="688" width="1" height="25" fill="#c0c0c0"/><rect x="775" y="681" width="1" height="32" fill="#c0c0c0"/><rect x="783" y="673" width="1" height="40" fill="#c0c0c0"/><rect x="791" y="669" width="1" height="44" fill="#c0c0c0"/><rect x="799" y="663" width="1" height="50" fill="#c0c0c0"/><rect x="807" y="656" width="1" height="57" fill="#c0c0c0"/><rect x="815" y="652" width="1" height="61" fill="#c0c0c0"/><rect x="823" y="645" width="1" height="68" fill="#c0c0c0"/><rect x="831" y="638" width="1" height="75" fill="#c0c0c0"/><rect x="839" y="631" width="1" height="82" fill="#c0c0c0"/><rect x="847" y="628" width="1" height="85" fill="#c0c0c0"/><rect x="855" y="627" width="1" height="86" fill="#c0c0c0"/><rect x="863" y="627" width="1" height="86" fill="#c0c0c0"/><rect x="871" y="630" width="1" height="83" fill="#c0c0c0"/><rect x="879" y="631" width="1" height="82" fill="#c0c0c0"/><rect x="887" y="627" width="1" height="86" fill="#c0c0c0"/><rect x="895" y="623" width="1" height="90" fill="#c0c0c0"/><rect x="903" y="623" width="1" height="90" fill="#c0c0c0"/><rect x="911" y="628" width="1" height="85" fill="#c0c0c0"/><rect x="919" y="636" width="1" height="77" fill="#c0c0c0"/><rect x="927" y="645" width="1" height="68" fill="#c0c0c0"/><rect x="935" y="650" width="1" height="63" fill="#c0c0c0"/><rect x="943" y="654" width="1" height="59" fill="#c0c0c0"/><rect x="951" y="656" width="1" height="57" fill="#c0c0c0"/><rect x="959" y="661" width="1" height="52" fill="#c0c0c0"/><rect x="967" y="666" width="1" height="47" fill="#c0c0c0"/><rect x="975" y="671" width="1" height="42" fill="#c0c0c0"/><rect x="983" y="675" width="1" height="38" fill="#c0c0c0"/><rect x="991" y="671" width="1" height="42" fill="#c0c0c0"/><rect x="999" y="671" width="1" height="42" fill="#c0c0c0"/><rect x="1007" y="673" width="1" height="40" fill="#c0c0c0"/><rect x="1015" y="673" width="1" height="40" fill="#c0c0c0"/><rect x="1023" y="671" width="1" height="42" fill="#c0c0c0"/><rect x="1031" y="670" width="1" height="43" fill="#c0c0c0"/><rect x="1039" y="675" width="1" height="38" fill="#c0c0c0"/><rect x="1047" y="679" width="1" height="34" fill="#c0c0c0"/><rect x="1055" y="683" width="1" height="30" fill="#c0c0c0"/><rect x="1063" y="686" width="1" height="27" fill="#c0c0c0"/><rect x="1071" y="697" width="1" height="16" fill="#c0c0c0"/><rect x="1079" y="704" width="1" height="9" fill="#c0c0c0"/><rect x="1087" y="709" width="1" height="4" fill="#c0c0c0"/><rect x="1095" y="712" width="1" height="3" fill="#c0c0c0"/><rect x="1103" y="712" width="1" height="7" fill="#c0c0c0"/><rect x="1111" y="712" width="1" height="8" fill="#c0c0c0"/><rect x="1119" y="712" width="1" height="6" fill="#c0c0c0"/><rect x="1127" y="712" width="1" height="3" fill="#c0c0c0"/><rect x="1135" y="712" width="1" height="1" fill="#c0c0c0"/><rect x="1143" y="712" width="1" height="1" fill="#c0c0c0"/><rect x="1151" y="712" width="1" height="1" fill="#c0c0c0"/><rect x="1159" y="711" width="1" height="2" fill="#c0c0c0"/><rect x="1167" y="709" width="1" height="4" fill="#c0c0c0"/><rect x="1175" y="709" width="1" height="4" fill="#c0c0c0"/><rect x="1183" y="703" width="1" height="10" fill="#c0c0c0"/><rect x="1191" y="700" width="1" height="13" fill="#c0c0c0"/><rect x="1199" y="693" width="1" height="20" fill="#c0c0c0"/><rect x="1207" y="685" width="1" height="28" fill="#c0c0c0"/><rect x="1215" y="675" width="1" height="38" fill="#c0c0c0"/><rect x="1223" y="664" width="1" height="49" fill="#c0c0c0"/><rect x="1231" y="661" width="1" height="52" fill="#c0c0c0"/><rect x="1239" y="659" width="1" height="54" fill="#c0c0c0"/><rect x="1247" y="659" width="1" height="54" fill="#c0c0c0"/><rect x="1255" y="657" width="1" height="56" fill="#c0c0c0"/><rect x="1263" y="661" width="1" height="52" fill="#c0c0c0"/><rect x="1271" y="670" width="1" height="43" fill="#c0c0c0"/><rect x="1279" y="677" width="1" height="36" fill="#c0c0c0"/><rect x="1287" y="684" width="1" height="29" fill="#c0c0c0"/><rect x="1295" y="696" width="1" height="17" fill="#c0c0c0"/><rect x="1303" y="707" width="1" height="6" fill="#c0c0c0"/><rect x="1311" y="712" width="1" height="1" fill="#c0c0c0"/><rect x="1319" y="712" width="1" height="5" fill="#c0c0c0"/><rect x="1327" y="712" width="1" height="15" fill="#c0c0c0"/><rect x="1335" y="712" width="1" height="26" fill="#c0c0c0"/>
<polyline points="7.0,698.2 15.0,701.3 23.0,703.3 31.0,705.3 39.0,707.1 47.0,708.9 55.0,710.1 63.0,710.9 71.0,712.2 79.0,712.4 87.0,712.2 95.0,711.4 103.0,710.4 111.0,709.4 119.0,708.4 127.0,706.6 135.0,705.1 143.0,702.8 151.0,700.0 159.0,695.7 167.0,691.9 175.0,688.1 183.0,684.3 191.0,680.5 199.0,676.9 207.0,674.9 215.0,673.4 223.0,672.4 231.0,672.9 239.0,674.6 247.0,677.2 255.0,679.2 263.0,682.3 271.0,684.8 279.0,687.3 287.0,688.8 295.0,690.1 303.0,691.1 311.0,692.1 319.0,692.1 327.0,691.9 335.0,691.6 343.0,691.4 351.0,690.9 359.0,690.6 367.0,690.6 375.0,690.6 383.0,691.4 391.0,692.4 399.0,692.9 407.0,693.7 415.0,693.4 423.0,693.2 431.0,692.1 439.0,691.1 447.8,688.8 457.9,686.3 470.6,683.0 480.7,682.3 498.5,682.3 506.0,684.3 518.8,686.8 536.5,693.2 549.2,699.5 567.0,707.9 577.0,712.2 584.7,714.0 592.3,718.0 607.5,720.3 625.3,719.0 640.5,716.0 650.6,713.4 660.8,709.6 678.5,706.3 696.3,704.6 721.7,703.3 734.3,701.5 759.7,698.2 774.9,693.7 785.0,688.8 792.7,687.3 805.4,679.7 820.6,670.3 830.7,662.2 840.9,653.8 856.0,644.5 860.0,641.2 870.0,636.6 882.8,631.8 895.5,627.7 905.6,626.5 920.9,626.5 931.0,629.8 946.2,634.8 961.4,641.2 974.0,649.5 986.8,657.6 999.5,663.2 1012.0,666.0 1027.4,669.8 1047.7,672.1 1062.9,674.9 1075.6,679.2 1088.0,685.5 1100.9,693.7 1113.6,702.0 1128.8,710.1 1141.5,712.7 1159.0,714.7 1174.5,712.7 1189.7,708.4 1202.4,704.6 1215.0,698.2 1227.7,689.9 1240.4,682.5 1255.6,671.1 1265.8,666.5 1269.3,665.7 1280.0,664.6 1288.0,665.3 1297.3,669.5 1305.0,674.5 1311.3,679.2 1317.5,684.3 1323.8,690.2 1330.0,696.8 1335.0,702.5" fill="none" stroke="#ff0000" stroke-width="1" stroke-dasharray="3 3"/>
</g>
<text x="1696" y="626">135.17</text><text x="1696" y="716">0.00</text><text x="1696" y="741">-45.3</text>
<g clip-path="url(#cr)" shape-rendering="crispEdges">
<line x1="8" y1="786.5" x2="1692" y2="786.5" stroke="#c0c0c0" stroke-width="1" stroke-dasharray="3 3"/><line x1="8" y1="836.5" x2="1692" y2="836.5" stroke="#c0c0c0" stroke-width="1" stroke-dasharray="3 3"/>
<polyline points="7.0,820.3 15.0,821.6 23.0,817.3 31.0,812.2 39.0,809.7 47.0,805.9 55.0,802.6 63.0,805.9 71.0,817.3 79.0,813.5 87.0,812.2 95.0,806.6 103.0,805.1 111.0,800.3 119.0,798.3 127.0,790.1 135.0,788.1 143.0,797.5 151.0,792.4 159.0,781.3 167.0,786.1 175.0,786.3 183.0,790.1 191.0,791.4 199.0,799.0 207.0,801.3 215.0,800.3 223.0,809.2 231.0,810.4 239.0,802.8 247.0,801.3 255.0,805.4 263.0,804.1 271.0,802.3 279.0,806.1 287.0,802.6 295.0,799.3 303.0,801.3 311.0,798.3 319.0,792.4 327.0,789.4 335.0,793.2 343.0,795.7 351.0,800.3 359.0,810.2 367.0,813.5 375.0,809.7 383.0,808.4 391.0,796.5 399.0,789.9 407.0,805.4 415.0,796.2 423.0,792.4 431.0,792.2 439.0,794.5 447.0,794.5 455.0,794.5 463.0,800.3 471.0,795.7 479.0,806.1 487.0,804.6 495.0,807.1 503.0,807.1 511.0,808.4 519.0,818.5 527.0,817.3 535.0,820.3 543.0,830.5 551.0,828.7 559.0,821.1 567.0,818.5 575.0,820.6 583.0,814.5 591.0,815.5 599.0,814.2 607.0,803.3 615.0,799.3 623.0,802.1 631.0,806.1 639.0,800.3 647.0,798.3 655.0,797.5 663.0,815.5 671.0,806.4 679.0,808.4 687.0,808.4 695.0,808.4 703.0,802.8 711.0,801.3 719.0,796.5 727.0,798.3 735.0,801.3 743.0,801.3 751.0,792.4 759.0,791.2 767.0,784.3 775.0,778.0 783.0,774.7 791.0,780.0 799.0,778.0 807.0,773.7 815.0,773.4 823.0,770.4 831.0,767.3 839.0,765.3 847.0,780.5 855.0,777.5 863.0,781.3 871.0,788.9 879.0,785.1 887.0,779.2 895.0,779.2 903.0,782.5 911.0,791.9 919.0,796.5 927.0,805.4 935.0,802.1 943.0,798.3 951.0,796.5 959.0,799.5 967.0,807.1 975.0,805.4 983.0,804.3 991.0,793.2 999.0,796.5 1007.0,801.3 1015.0,798.3 1023.0,793.4 1031.0,794.2 1039.0,805.1 1047.0,807.1 1055.0,808.4 1063.0,808.4 1071.0,822.4 1079.0,822.4 1087.0,820.3 1095.0,825.4 1103.0,820.3 1111.0,816.5 1119.0,809.7 1127.0,807.1 1135.0,804.3 1143.0,808.4 1151.0,814.0 1159.0,808.4 1167.0,803.6 1175.0,809.4 1183.0,799.3 1191.0,802.8 1199.0,794.5 1207.0,790.7 1215.0,784.8 1223.0,782.3 1231.0,792.2 1239.0,792.2 1247.0,796.5 1255.0,793.2 1263.0,803.7 1271.0,812.3 1279.0,811.4 1287.0,814.5 1295.0,823.0 1303.0,826.4 1311.0,817.5 1319.0,820.5 1327.0,828.2 1335.0,830.4" fill="none" stroke="#1e90ff" stroke-width="1"/>
</g>
<text x="1696" y="757">100</text><text x="1696" y="790">70</text><text x="1696" y="840">30</text><text x="1696" y="872">0</text>
<path d="M1302.5 483.1 L1296.5 488.9 L1288.2 494.4 M1298.1 488.3 L1316.8 488.3 Q1308.5 496.8 1286.6 502.3 M1296.7 492.7 L1301.1 497.1 M1308.0 497.7 L1299.2 504.5 L1289.1 509.5 M1303.6 501.5 L1318.4 501.5 Q1310.7 512.8 1287.7 516.9 M1300.8 507.8 L1304.1 512.2 M1337.3 483.7 L1340.1 487.8 M1324.4 494.7 L1324.4 488.9 L1353.5 488.9 L1353.5 494.7 M1335.4 493.0 L1329.4 497.4 L1322.5 501.5 M1342.5 493.0 L1348.6 497.1 L1355.4 501.5 M1326.9 502.9 L1351.3 502.9 M1339.0 502.9 L1339.0 514.7 M1323.1 514.7 L1355.2 514.7 M1358.0 490.0 L1372.8 490.0 M1365.4 483.7 L1359.3 501.5 L1372.8 501.5 M1366.5 493.6 L1366.5 517.7 M1357.7 510.0 L1373.6 507.5 M1374.1 490.0 L1390.9 490.0 M1372.8 497.0 L1392.2 497.0 M1381.8 483.7 L1376.3 503.4 L1390.9 503.4 L1383.5 512.2 M1375.8 508.9 L1387.3 516.9 M1394.2 491.9 L1405.7 491.9 M1400.2 484.2 L1400.2 513.8 Q1400.2 516.6 1394.4 515.8 M1393.9 503.7 L1404.9 499.9 M1426.8 485.6 L1409.2 487.8 L1409.5 502.3 Q1409.0 511.1 1404.6 516.9 M1409.5 497.9 L1428.2 497.9 M1420.5 497.9 L1420.5 517.7 M1446.5 483.1 L1446.5 495.5 M1446.5 488.3 L1463.9 488.3 M1435.5 507.8 L1435.5 495.5 L1459.2 495.5 L1459.2 507.8 M1435.5 504.8 L1459.2 504.8 M1435.4 509.5 L1430.7 516.9 M1441.4 508.9 L1443.9 516.3 M1449.9 508.6 L1452.9 516.3 M1458.4 509.2 L1462.8 516.9" fill="none" stroke="#ec1019" stroke-width="2.8" stroke-linejoin="miter" stroke-miterlimit="1.5"/>
<path d="M1481.9 487.5 L1471.0 487.5 L1470.0 497.7 C1476.5 495.7 1482.2 499.0 1481.9 504.5 C1481.7 511.1 1474.3 514.4 1468.2 510.6 M1500.9 513.3 L1500.9 486.7 L1499.8 486.7 L1487.2 505.1 L1506.6 505.1 M1510.7 491.6 L1519.0 487.0 L1519.0 513.3 M1545.0 487.5 L1534.1 487.5 L1533.1 497.7 C1539.5 495.7 1545.3 499.0 1545.0 504.5 C1544.8 511.1 1537.3 514.4 1531.3 510.6" fill="none" stroke="#ec1019" stroke-width="3" stroke-linejoin="miter" stroke-miterlimit="1.5"/>
</svg>
</body></html>
